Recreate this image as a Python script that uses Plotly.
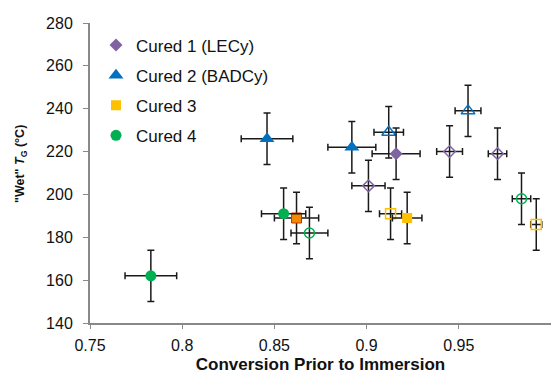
import plotly.graph_objects as go

# ---- data ----
c1_x = [0.916]; c1_y = [219]; c1_ex = [0.013]; c1_ey = [12]
c1h_x = [0.901, 0.945, 0.971]; c1h_y = [204, 220, 219]; c1h_ex = [0.009, 0.007, 0.005]; c1h_ey = [12, 12, 12]

c2_x = [0.846, 0.892]; c2_y = [226, 222]; c2_ex = [0.014, 0.013]; c2_ey = [12, 12]
c2h_x = [0.912, 0.955]; c2h_y = [229, 239]; c2h_ex = [0.008, 0.007]; c2h_ey = [12, 12]

c3_x = [0.922]; c3_y = [189]; c3_ex = [0.008]; c3_ey = [12]
c3o_x = [0.862]; c3o_y = [189]; c3o_ex = [0.012]; c3o_ey = [12]
c3h_x = [0.913, 0.992]; c3h_y = [191, 186]; c3h_ex = [0.006, 0.003]; c3h_ey = [12, 12]

c4_x = [0.783, 0.855]; c4_y = [162, 191]; c4_ex = [0.014, 0.012]; c4_ey = [12, 12]
c4h_x = [0.869, 0.984]; c4h_y = [182, 198]; c4h_ex = [0.010, 0.005]; c4h_ey = [12, 12]

x_ticks = [0.75, 0.8, 0.85, 0.9, 0.95, 1.0]
x_ticklabels = ["0.75", "0.8", "0.85", "0.9", "0.95", "1"]
y_ticks = [140, 160, 180, 200, 220, 240, 260, 280]

PURPLE = "#8064A2"; BLUE = "#0070C0"; YELLOW = "#FFC000"; GREEN = "#00B050"
EB = "#1a1a1a"

fig = go.Figure()

def add(x, y, ex, ey, symbol, color, size, name=None, group=None, show=False, line_color=None, lw=0):
    fig.add_trace(go.Scatter(
        x=x, y=y, mode="markers", name=name, legendgroup=group, showlegend=show,
        marker=dict(symbol=symbol, color=color, size=size,
                    line=dict(color=line_color or color, width=lw)),
        error_x=dict(type="data", array=ex, visible=True, color=EB, thickness=1.5, width=3.5),
        error_y=dict(type="data", array=ey, visible=True, color=EB, thickness=1.5, width=3.5),
    ))

# hollow points first (no legend)
add(c1h_x, c1h_y, c1h_ex, c1h_ey, "diamond-open", PURPLE, 9, group="g1", lw=1.5)
add(c2h_x, c2h_y, c2h_ex, c2h_ey, "triangle-up-open", BLUE, 12, group="g2", lw=1.5)
add(c3h_x, c3h_y, c3h_ex, c3h_ey, "square-open", YELLOW, 10, group="g3", lw=1.5)
add(c4h_x, c4h_y, c4h_ex, c4h_ey, "circle-open", GREEN, 10, group="g4", lw=1.5)
add(c3o_x, c3o_y, c3o_ex, c3o_ey, "square", "#F08A00", 10, group="g3", line_color="#D03000", lw=1)

# filled points with legend
add(c1_x, c1_y, c1_ex, c1_ey, "diamond", PURPLE, 10, name="Cured 1 (LECy)", group="g1", show=True)
add(c2_x, c2_y, c2_ex, c2_ey, "triangle-up", BLUE, 13, name="Cured 2 (BADCy)", group="g2", show=True)
add(c3_x, c3_y, c3_ex, c3_ey, "square", YELLOW, 10, name="Cured 3", group="g3", show=True)
add(c4_x, c4_y, c4_ex, c4_ey, "circle", GREEN, 11, name="Cured 4", group="g4", show=True)

fig.update_layout(
    width=551, height=374,
    margin=dict(l=90, r=0, t=23, b=51),
    paper_bgcolor="white", plot_bgcolor="white",
    font=dict(family="Liberation Sans, Arial, sans-serif", size=16, color="#111111"),
    showlegend=True,
    legend=dict(x=0.013, y=0.985, xanchor="left", yanchor="top",
                bgcolor="rgba(0,0,0,0)", font=dict(size=17),
                traceorder="grouped", tracegroupgap=5, itemwidth=30),
    xaxis=dict(range=[0.75, 1.0], tickvals=x_ticks, ticktext=x_ticklabels, automargin=False,
               showgrid=False, zeroline=False, showline=True, linecolor="#888888", linewidth=2,
               ticks="outside", ticklen=4, tickcolor="#888888", ticklabelstandoff=3,
               tickfont=dict(size=16),
               title=dict(text="<b>Conversion Prior to Immersion</b>", font=dict(size=17), standoff=10)),
    yaxis=dict(range=[140, 280], tickvals=y_ticks, automargin=False,
               showgrid=False, zeroline=False, showline=True, linecolor="#888888", linewidth=2,
               ticks="outside", ticklen=5, tickcolor="#888888", ticklabelstandoff=7,
               tickfont=dict(size=16)),
    annotations=[dict(text='<b>"Wet" <i>T</i><sub>G</sub> (°C)</b>', textangle=-90,
                      xref="paper", yref="paper", x=-0.1497, y=0.53,
                      xanchor="center", yanchor="middle", showarrow=False,
                      font=dict(size=12.5))],
)

fig.write_html("out.html")
